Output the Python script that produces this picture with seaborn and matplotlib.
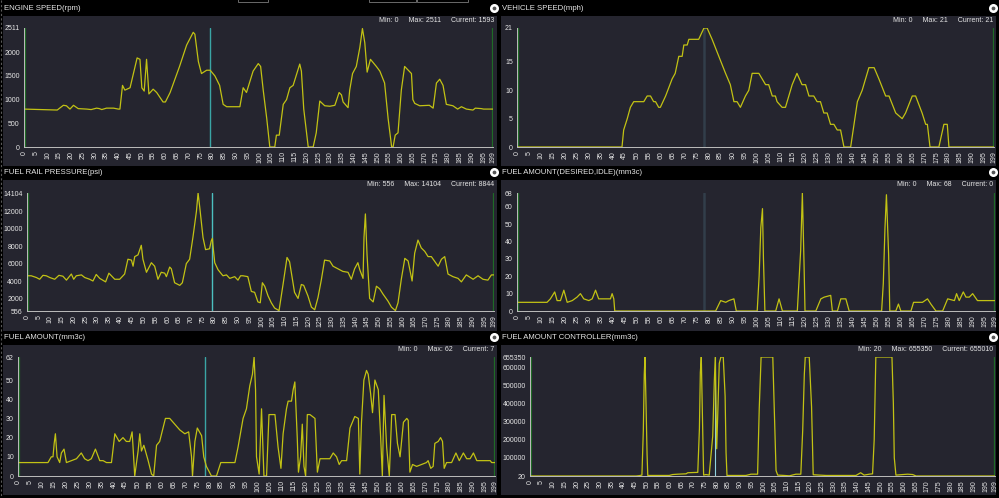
"""
Dashboard recreation: six live sensor traces (engine, vehicle speed, fuel).
"""

import numpy as np
import pandas as pd
import matplotlib
matplotlib.use("Agg")
import matplotlib.pyplot as plt
import seaborn as sns
from matplotlib.patches import Rectangle

# ---- data (sample index vs value) ----
engine_x = [0, 14.1, 16.7, 18, 19.5, 21, 23, 26.6, 28.5, 30.8, 32, 33, 35, 38, 40, 40.7, 41.8, 42.8,
            45, 48, 49.2, 50, 51, 52, 53, 54.8, 56.3, 59, 60, 62, 66, 69, 71.8, 72.5, 74, 75.3,
            77.5, 79, 81, 83, 84.5, 86, 91.6, 93, 94.4, 97.2, 99.4, 100.4, 101.5, 103, 104.3,
            106.4, 107.1, 108.3, 110, 111.4, 112.8, 114.2, 117, 117.7, 118.7, 120.6, 122.7, 124,
            125.5, 127.6, 129.8, 131.9, 133.7, 134.7, 135.4, 137.5, 138.2, 139.4, 141, 142.5,
            143.6, 144.6, 145.6, 147, 149.5, 151, 153, 154.5, 156, 156.6, 157.5, 158.7, 160.1,
            161.5, 164.4, 165, 165.8, 167.9, 172, 173.6, 175, 176.4, 177.8, 179.2, 182, 184,
            185.6, 187.7, 190.5, 191.5, 194, 195, 199]
engine_y = [800, 780, 880, 870, 800, 880, 810, 800, 790, 820, 810, 790, 820, 820, 800, 800, 1300, 1200,
            1250, 1880, 1850, 1250, 1180, 1850, 1120, 1220, 1150, 950, 950, 1150, 1700, 2150, 2420,
            2380, 1800, 1550, 1620, 1620, 1500, 1300, 900, 850, 850, 1250, 1150, 1600, 1760, 1700,
            1200, 600, 0, 0, 250, 250, 900, 1000, 1250, 1300, 1750, 1600, 800, 0, 0, 300, 970, 870,
            860, 880, 1150, 1100, 950, 830, 1200, 1550, 1700, 2100, 2500, 2200, 1580, 1850, 1700,
            1600, 1350, 600, 0, 0, 250, 300, 1200, 1700, 1550, 1000, 920, 870, 880, 820, 1350, 1430,
            1300, 900, 870, 800, 850, 800, 780, 820, 810, 800, 800]

vehicle_x = [0, 43.8, 44.5, 46, 47.3, 48.7, 52.9, 54.3, 55.7, 57, 57.8, 59.1, 59.8, 62, 64.7, 66, 67.5,
             68.9, 69.6, 71, 71.7, 75.8, 78, 79.3, 81.4, 84.2, 87, 89, 90.5, 91.8, 93.2, 95.3, 96.7,
             98.1, 100.9, 102.3, 103.7, 105, 106.5, 107.8, 108.5, 110.6, 112, 113.4, 114.8, 116.8,
             118.9, 120.4, 121.8, 123.8, 125.2, 126.6, 128, 129.4, 130.8, 132.2, 133.6, 135, 136.4,
             139.2, 142, 144, 145.4, 146.8, 149, 151, 153.8, 155.2, 158, 160.7, 162.1, 164.9, 166.3,
             169, 170.5, 171.2, 172.3, 176, 178.1, 179.5, 180.2, 199]
vehicle_y = [0, 0, 3, 5, 7, 8, 8, 9, 9, 8, 8, 7, 7, 9, 12, 13, 16, 16, 18, 18, 19, 19, 21, 21, 19, 16, 13,
             11, 8, 8, 7, 9, 10, 13, 13, 12, 11, 11, 9, 9, 8, 7, 7, 9, 11, 13, 11, 11, 9, 9, 8, 8, 6,
             6, 4, 4, 3, 3, 0, 0, 8, 10, 12, 14, 14, 12, 9, 9, 6, 5, 6, 9, 9, 6, 4, 4, 0, 0, 4, 4, 0, 0]

rail_x = [0, 1.8, 4, 5.4, 6.8, 8.2, 9.7, 11.8, 13.6, 15.3, 16.8, 18.9, 19.9, 21, 23.2, 24.6, 26.7, 28.1,
          29.5, 31, 33.5, 34.9, 37.4, 39.5, 41.6, 43, 44.5, 45.2, 45.9, 47.3, 48.7, 49.4, 50.9, 53,
          54.4, 55.8, 57.2, 58.7, 59.4, 60.8, 61.5, 62.9, 65.1, 66.2, 67.9, 69.3, 70.7, 72.2, 72.9,
          73.6, 75, 76.1, 77.8, 78.5, 79, 79.2, 80, 81.4, 83.5, 85, 86.4, 88.5, 89.9, 91, 92, 94.1,
          95.6, 97, 98.4, 99.4, 100.3, 101.3, 102.7, 104.1, 105.5, 107.4, 109.1, 110.8, 111.9, 114,
          115.5, 116.9, 117.9, 119.7, 121.2, 122.6, 124, 125.4, 126.8, 129, 130.4, 132.5, 134.6,
          136.8, 138.2, 139.6, 141, 141.8, 143.2, 143.6, 144.2, 144.9, 146, 147.5, 148.9, 150.3,
          151.7, 153.8, 155.3, 157, 158.1, 159.5, 161, 162.4, 164.1, 165.2, 166.6, 168, 169.5,
          170.9, 172.3, 175.2, 176.6, 178, 179.4, 181.5, 183.7, 185.1, 187.2, 190.1, 192.2, 194.3,
          196.4, 197.9, 199]
rail_y = [4600, 4600, 4400, 4200, 4650, 4600, 4400, 4200, 4650, 4550, 4100, 4800, 4200, 4600, 4700,
          4400, 4200, 4000, 4750, 4300, 3900, 4900, 4200, 4200, 4800, 6500, 6400, 5700, 6800, 7000,
          8100, 6500, 5000, 6100, 5700, 4200, 5000, 4900, 4500, 5600, 5400, 3800, 3500, 3800, 6000,
          6500, 9000, 12000, 14104, 12500, 9000, 7600, 7700, 8600, 8900, 8200, 6100, 5300, 4600,
          4700, 4300, 4500, 4100, 4600, 4600, 4500, 2800, 2700, 1600, 1500, 3800, 3400, 2300, 1500,
          900, 600, 3600, 6700, 6200, 2700, 2000, 3600, 3500, 2300, 1000, 700, 2100, 4100, 6400,
          6300, 5700, 5400, 5100, 5000, 4200, 5400, 6100, 5300, 4300, 9000, 11700, 7000, 2000, 1600,
          3400, 3100, 2500, 1700, 1000, 600, 1500, 4200, 6600, 6300, 4000, 7200, 8700, 7800, 7400,
          6800, 6800, 5700, 6500, 6800, 4800, 4500, 4300, 3900, 4700, 4200, 4600, 4200, 4100, 4700,
          4700]

idle_x = [0, 12.5, 13.9, 15.7, 16.7, 18.1, 19.5, 20.9, 23, 25, 26.4, 27.8, 29.9, 31.3, 32.7, 34, 38.9,
          39.6, 40.3, 40.7, 82.7, 84.8, 86.9, 88.2, 90.3, 91.3, 100, 100.8, 101.5, 102.2, 102.6,
          103.2, 107.7, 109.1, 110.5, 116.7, 118.1, 118.8, 119.5, 119.9, 124.4, 126.5, 127.9, 130.6,
          131.3, 133.4, 134.8, 136.9, 138.3, 151.8, 152.5, 153.2, 153.8, 154.7, 155.2, 157.7, 158.8,
          159.8, 164, 165.1, 168.8, 170.9, 172.3, 174.4, 177.2, 179.3, 182.1, 183, 184.1, 185.8,
          186.9, 188.3, 189.7, 191.7, 199]
idle_y = [5, 5, 7, 11, 6, 6, 12, 5, 6, 8, 10, 7, 6, 7, 12, 7, 7, 10, 7, 0, 0, 6, 5, 6, 7, 0, 0, 20, 48,
          59, 30, 0, 0, 7, 0, 0, 35, 68, 27, 0, 0, 7, 8, 9, 0, 0, 7, 7, 0, 0, 16, 48, 67, 33, 0, 0, 4,
          0, 0, 5, 5, 7, 4, 0, 0, 7, 6, 10, 6, 11, 8, 8, 10, 6, 6]

fuel_x = [0, 12.5, 13.9, 14.6, 15.1, 15.6, 16.3, 17.4, 18.1, 19.2, 20.2, 22.3, 24.4, 26.4, 27.8, 29.2,
          30.6, 32.3, 34.1, 35.5, 36.9, 39, 40.4, 42.2, 43.8, 45.2, 46.6, 47.6, 48, 48.7, 50.1, 50.8,
          51.5, 52.5, 54.3, 55.7, 56.6, 57.8, 59.1, 61.5, 63.3, 64.7, 67.5, 69.6, 71.2, 72.4, 72.8,
          73.8, 74.8, 76.6, 77.5, 78.6, 80.7, 82.8, 84.6, 90.5, 91.8, 93.9, 95.3, 96.7, 97.8, 98.5,
          99.1, 99.5, 100.6, 101.6, 102.6, 103.7, 104.7, 107.2, 108.5, 109.7, 110.6, 112, 112.7,
          114.1, 114.8, 115.5, 116.5, 117, 117.9, 118.6, 119.3, 120, 120.7, 121.8, 123.9, 124.9,
          126, 130.1, 131.5, 132.9, 134, 135, 137.1, 138.5, 140.5, 142, 142.6, 143.3, 144.3, 145.4,
          146.1, 147.1, 147.9, 148.9, 150.3, 151.3, 152, 152.7, 153.8, 154.9, 155.9, 157.3, 158.3,
          159.4, 160.8, 162.2, 162.8, 163.5, 164.6, 166.3, 168.3, 170.4, 171.1, 172.2, 173.2, 173.9,
          175.3, 176.3, 177.1, 177.8, 178.8, 180.9, 182.7, 184.1, 185.8, 187.2, 188.6, 190, 191.4,
          197, 197.6, 199]
fuel_y = [7, 7, 10, 10, 17, 22, 10, 7, 12, 14, 7, 8, 9, 12, 9, 8, 9, 14, 8, 8, 7, 7, 22, 18, 20, 18, 18,
          23, 15, 0, 13, 22, 13, 16, 8, 1, 0, 16, 18, 30, 30, 28, 24, 22, 23, 10, 0, 18, 25, 21, 10, 5,
          0, 0, 7, 7, 15, 30, 35, 47, 53, 62, 45, 10, 1, 35, 0, 0, 32, 32, 15, 4, 22, 35, 39, 39, 45,
          49, 20, 2, 10, 27, 5, 0, 32, 32, 30, 2, 9, 9, 12, 10, 6, 8, 8, 25, 31, 30, 1, 28, 50, 55,
          53, 43, 33, 50, 45, 20, 0, 42, 15, 0, 32, 32, 17, 10, 28, 30, 29, 2, 6, 5, 6, 7, 8, 4, 5,
          17, 18, 20, 18, 4, 7, 7, 12, 8, 12, 9, 9, 12, 8, 8, 7, 7]

ctrl_x = [0, 45.4, 46.8, 47.9, 48.5, 48.9, 49.2, 49.6, 50.1, 50.4, 59.6, 61, 63.2, 66.8, 67.5, 71.8,
          72.5, 72.9, 73.3, 73.9, 74.3, 75.3, 76.7, 78.2, 78.9, 79.3, 79.9, 80.3, 81, 81.7, 82.7,
          83.5, 83.9, 84.3, 92.4, 94.6, 97.4, 98.1, 98.9, 103.9, 104.6, 105.3, 106, 108.8, 111,
          113.8, 115.9, 116.7, 117.4, 117.8, 119.5, 120.5, 121.2, 123.8, 126.7, 139.5, 141.5, 143,
          145.2, 146.6, 147.3, 148, 154.9, 155.5, 155.9, 156.6, 159.5, 161.6, 163.8, 165.2, 199]
ctrl_y = [20, 20, 2000, 5000, 250000, 560000, 655350, 430000, 120000, 3000, 3000, 8000, 10000, 12000,
          18000, 20000, 260000, 570000, 655350, 260000, 5000, 8000, 5000, 220000, 530000, 655350,
          150000, 320000, 620000, 655350, 655350, 440000, 130000, 3000, 3000, 10000, 10000, 370000,
          655350, 655350, 340000, 30000, 5000, 3000, 1000, 10000, 10000, 250000, 560000, 655350,
          655350, 380000, 7000, 5000, 3000, 3000, 18000, 5000, 10000, 12000, 200000, 655350, 655350,
          400000, 100000, 5000, 8000, 10000, 8000, 20, 20]

titles = ["ENGINE SPEED(rpm)", "VEHICLE SPEED(mph)", "FUEL RAIL PRESSURE(psi)",
          "FUEL AMOUNT(DESIRED,IDLE)(mm3c)", "FUEL AMOUNT(mm3c)", "FUEL AMOUNT CONTROLLER(mm3c)"]
stats = [(0, 2511, 1593), (0, 21, 21), (556, 14104, 8844), (0, 68, 0), (0, 62, 7), (20, 655350, 655010)]
y_ticks = [[0, 500, 1000, 1500, 2000, 2511],
           [0, 5, 10, 15, 21],
           [556, 2000, 4000, 6000, 8000, 10000, 12000, 14104],
           [0, 10, 20, 30, 40, 50, 60, 68],
           [0, 10, 20, 30, 40, 50, 62],
           [20, 100000, 200000, 300000, 400000, 500000, 600000, 655350]]
cursor_x = [79, 78, 79, 78, 78, 79.3]
x_ticks = list(range(0, 200, 5)) + [199]

# ---- style ----
W, H = 999, 498
BG = "#000000"
PANEL = "#25252f"
LINE = "#c2c214"
TXT = "#e6e6e6"
cursor_colors = ["#3aa5a5", "#323e4a", "#4cc0c0", "#323e4a", "#3aa5a5", "#8fd3e0"]
cursor_widths = [1.0, 1.8, 1.0, 1.8, 1.0, 0.8]

sns.set_style("dark")
plt.rcParams["font.family"] = ["Liberation Sans Narrow", "Liberation Sans", "DejaVu Sans"]

fig = plt.figure(figsize=(W / 100, H / 100), dpi=100, facecolor=BG)

# overlay in pixel coordinates for the panel chrome
over = fig.add_axes([0, 0, 1, 1], zorder=0)
over.set_xlim(0, W)
over.set_ylim(H, 0)
over.axis("off")

panels = [  # dark box (x0, y0, x1, y1), plot area (x0, y0, x1, y1)
    ((3, 16, 497, 166), (24, 28, 493, 147)),
    ((501, 16, 996, 166), (517, 28, 994, 147)),
    ((3, 180, 497, 331), (27, 193, 494, 311)),
    ((501, 180, 996, 331), (517, 193, 995, 311)),
    ((3, 345, 497, 495), (18, 357, 495, 476)),
    ((501, 345, 996, 495), (530, 357, 995, 476)),
]

series = [(engine_x, engine_y), (vehicle_x, vehicle_y), (rail_x, rail_y),
          (idle_x, idle_y), (fuel_x, fuel_y), (ctrl_x, ctrl_y)]

# toolbar stubs along the top edge and the dashed left border
for bx0, bx1 in [(238, 268), (369, 416), (417, 468)]:
    over.add_patch(Rectangle((bx0, -2), bx1 - bx0, 4, fill=False, ec="#6a6a6a", lw=0.7))
over.plot([1, 1], [0, H], color="#5a5a5a", lw=0.8, ls=(0, (2, 2)))

for i, ((box, area), (xs, ys)) in enumerate(zip(panels, series)):
    bx0, by0, bx1, by1 = box
    over.add_patch(Rectangle((bx0, by0), bx1 - bx0, by1 - by0, fc=PANEL, ec="none"))
    # title bar text and round icon
    over.text(bx0 + 1, by0 - 8, titles[i], color=TXT, fontsize=5.6, va="center", ha="left")
    over.scatter([bx1 - 3], [by0 - 8], s=30, c="white", zorder=3)
    over.scatter([bx1 - 3], [by0 - 8], s=3, c="#555555", zorder=4)
    mn, mx, cur = stats[i]
    over.text(bx1 - 3, by0 + 4, f"Min: {mn}     Max: {mx}     Current: {cur}",
              color=TXT, fontsize=5, va="center", ha="right")

    ax0, ay0, ax1, ay1 = area
    ax = fig.add_axes([ax0 / W, 1 - ay1 / H, (ax1 - ax0) / W, (ay1 - ay0) / H], zorder=2)
    ax.set_facecolor("none")
    df = pd.DataFrame({"sample": xs, "value": ys})
    sns.lineplot(data=df, x="sample", y="value", ax=ax, color=LINE, lw=0.9,
                 estimator=None, sort=False)
    ax.axvline(0.3, color="#1f6b26", lw=0.9, zorder=1)
    ax.axvline(198.7, color="#1f6b26", lw=0.9, zorder=1)
    ax.axvline(cursor_x[i], color=cursor_colors[i], lw=cursor_widths[i], zorder=1)

    yt = y_ticks[i]
    ax.set_xlim(0, 199)
    ax.set_ylim(yt[0], yt[-1])
    ax.set_xticks(x_ticks)
    ax.set_xticklabels([str(t) for t in x_ticks], rotation=90)
    ax.set_yticks(yt)
    ax.set_yticklabels([str(t) for t in yt])
    ax.set_xlabel("")
    ax.set_ylabel("")
    ax.grid(False)
    ax.tick_params(axis="both", colors="#cfcfcf", labelcolor=TXT, labelsize=5,
                   length=2, width=0.6, pad=1)
    for side in ["top", "right"]:
        ax.spines[side].set_visible(False)
    for side in ["left", "bottom"]:
        ax.spines[side].set_visible(True)
        ax.spines[side].set_color("#bdbdbd")
        ax.spines[side].set_linewidth(0.7)

fig.savefig("out.png", dpi=100, facecolor=BG)
